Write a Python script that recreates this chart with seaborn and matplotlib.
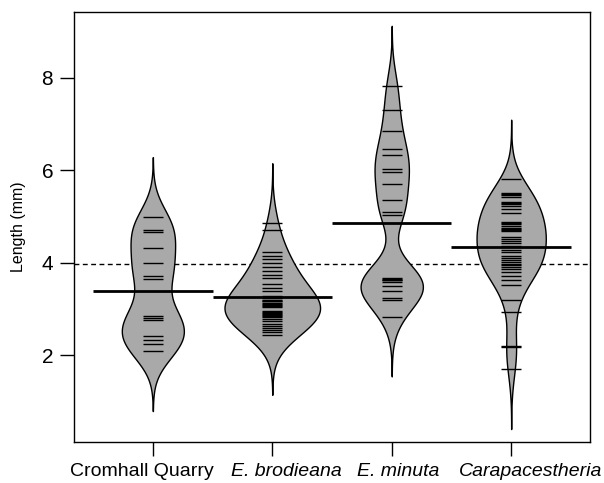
import numpy as np
import pandas as pd
import matplotlib
matplotlib.use("Agg")
import matplotlib.pyplot as plt
import matplotlib.transforms as mtransforms
import seaborn as sns

categories = ["Cromhall Quarry", "E. brodieana", "E. minuta", "Carapacestheria"]

cromhall = [4.99, 4.70, 4.66, 4.31, 4.00, 3.71, 3.64, 2.85, 2.81, 2.76,
            2.42, 2.32, 2.25, 2.08]
brodieana = [4.86, 4.70, 4.22, 4.15, 4.07, 4.00, 3.90, 3.82, 3.73, 3.66,
             3.53, 3.46, 3.38, 3.28, 3.24,
             3.20, 3.18, 3.16, 3.13, 3.11, 3.09, 3.07, 3.05,
             2.95, 2.93, 2.91, 2.89, 2.87, 2.85, 2.83,
             2.78, 2.73, 2.68, 2.63, 2.58, 2.54, 2.50, 2.43]
minuta = [7.83, 7.29, 6.85, 6.46, 6.33, 6.02, 5.95, 5.71, 5.35, 5.10, 5.04,
          3.66, 3.64, 3.63, 3.62, 3.59, 3.49, 3.39, 3.23, 3.19, 2.83]
carapacestheria = [5.80, 5.51, 5.49, 5.46, 5.42, 5.31, 5.29, 5.27, 5.23,
                   5.15, 5.08, 4.87, 4.85, 4.83, 4.79, 4.75, 4.73, 4.71, 4.68,
                   4.56, 4.51, 4.47, 4.42, 4.36, 4.27, 4.23,
                   4.14, 4.10, 4.06, 4.02, 3.98, 3.94, 3.90, 3.86,
                   3.80, 3.71, 3.62, 3.51, 3.19, 2.94, 2.19, 2.17, 1.69]

y_ticks = [2, 4, 6, 8]
y_label = "Length (mm)"

groups = [cromhall, brodieana, minuta, carapacestheria]
df = pd.DataFrame({
    "group": np.repeat(categories, [len(g) for g in groups]),
    "length": np.concatenate(groups),
})

BW = 0.43


def fixed_bw(kde):
    return BW / np.std(kde.dataset, ddof=1)


sns.set_style("ticks")
plt.rcParams["font.family"] = ["Liberation Sans", "DejaVu Sans"]
plt.rcParams["text.color"] = "black"
plt.rcParams["axes.labelcolor"] = "black"

fig = plt.figure(figsize=(6.04, 4.83), dpi=100)
ax = fig.add_axes([74 / 604, 1 - 442 / 483, 516 / 604, 430 / 483])

overall = df["length"].mean()
ax.axhline(overall, color="black", lw=1.0, ls=(0, (3.5, 2.5)), zorder=0.5)

sns.violinplot(data=df, x="group", y="length", order=categories, ax=ax,
               color="#a9a9a9", saturation=1, linecolor="black", linewidth=1.0,
               inner=None, density_norm="area", common_norm=True, cut=3,
               bw_method=fixed_bw, width=0.8, gridsize=200, zorder=1)

for i, g in enumerate(groups):
    ax.hlines(g, i - 0.085, i + 0.085, color="black", lw=1.0, zorder=3)
    ax.hlines(np.mean(g), i - 0.5, i + 0.5, color="black", lw=2.0, zorder=4)

ax.set_xlim(-0.66, 3.66)
ax.set_ylim(0.12, 9.42)
ax.set_yticks(y_ticks)
ax.set_xlabel("")
ax.set_ylabel(y_label, fontsize=11.5, labelpad=11, color="black")
ax.tick_params(axis="y", direction="out", length=10, width=1.0,
               color="black", labelcolor="black", labelsize=15, pad=5)
ax.tick_params(axis="x", direction="out", length=10, width=1.0,
               color="black", labelcolor="black", labelsize=14, pad=5)

label_shift_px = [-11, 14, 6, 19]
for lbl, dx in zip(ax.get_xticklabels(), label_shift_px):
    if lbl.get_text() != "Cromhall Quarry":
        lbl.set_fontstyle("italic")
    lbl.set_transform(lbl.get_transform() +
                      mtransforms.ScaledTranslation(dx / 100, 0, fig.dpi_scale_trans))
for s in ax.spines.values():
    s.set_visible(True)
    s.set_color("black")
    s.set_linewidth(1.0)

fig.savefig("out.png", dpi=100)
